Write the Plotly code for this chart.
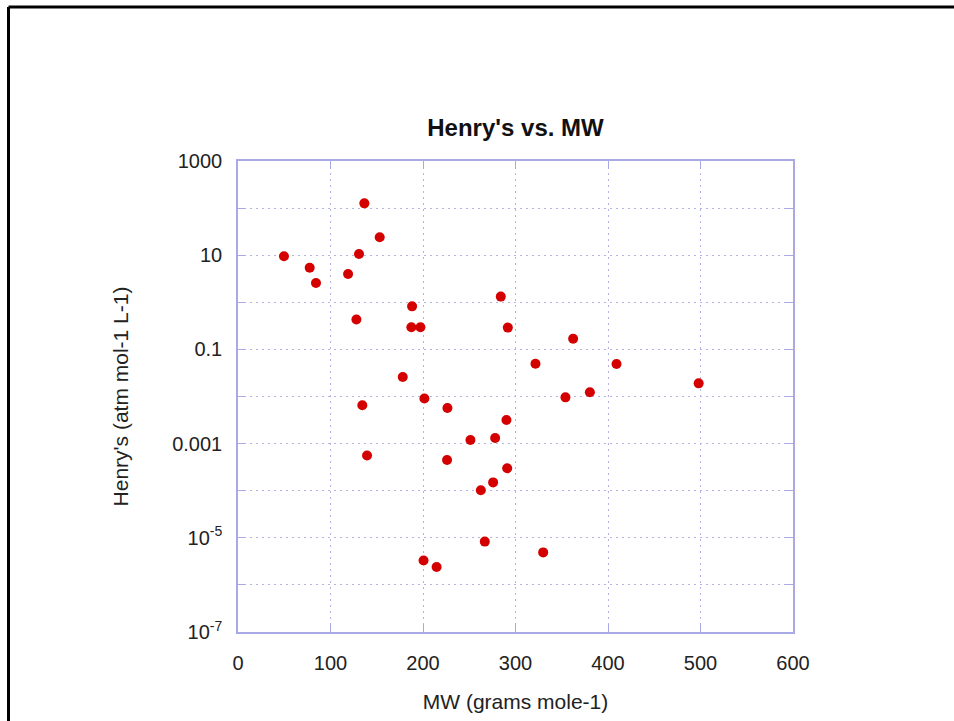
import plotly.graph_objects as go

# Molecular weight (g/mol) and Henry's law constant (atm mol-1 L-1)
mw = [49.7, 77.5, 84.3, 119, 130.8, 136.6, 153.2, 128, 188.2, 187.4,
      197.2, 178.1, 201.5, 134.4, 226.4, 139.5, 226, 200.6, 214.7, 284.1,
      291.7, 362.3, 321.6, 409.2, 498, 354, 380.4, 290.2, 251.3, 278,
      291, 275.8, 262.5, 266.8, 329.9]
henry = [9.5, 5.4, 2.57, 4.0, 10.6, 126, 24, 0.43, 0.82, 0.295,
         0.295, 0.026, 0.0091, 0.0065, 0.0057, 5.6e-4, 4.5e-4, 3.3e-6, 2.4e-6, 1.32,
         0.29, 0.169, 0.0497, 0.049, 0.019, 0.0096, 0.0123, 0.00317, 0.00119, 0.00131,
         2.99e-4, 1.5e-4, 1.02e-4, 8.3e-6, 4.9e-6]

y_tickvals = [1e-7, 1e-5, 1e-3, 1e-1, 10, 1000]
y_ticktext = ["10<sup>-7</sup>", "10<sup>-5</sup>", "0.001", "0.1", "10", "1000"]
y_minorvals = [1e-6, 1e-4, 1e-2, 1, 100]
x_tickvals = [0, 100, 200, 300, 400, 500, 600]

FONT = "Liberation Sans, Arial, Helvetica, sans-serif"
AXIS_COLOR = "#a9a9e6"
GRID_COLOR = "#b4b4e4"
GRID_DASH = "2px,4px"

fig = go.Figure(
    go.Scatter(
        x=mw, y=henry, mode="markers",
        marker=dict(color="#d40000", size=10, line=dict(width=0)),
        hoverinfo="x+y",
    )
)

W, H = 954, 721
L, R, T, B = 238, 161, 161, 89
pw, ph = W - L - R, H - T - B

# slide frame along the top and left edges
frame_x = (8.5 - L) / pw
frame_y = 1 + (T - 7) / ph
fig.add_shape(type="line", xref="paper", yref="paper",
              x0=frame_x, y0=frame_y, x1=1 + R / pw + 0.01, y1=frame_y,
              line=dict(color="black", width=3))
fig.add_shape(type="line", xref="paper", yref="paper",
              x0=frame_x, y0=frame_y, x1=frame_x, y1=-B / ph - 0.01,
              line=dict(color="black", width=3))

fig.update_layout(
    width=W, height=H,
    margin=dict(l=L, r=R, t=T, b=B, autoexpand=False),
    paper_bgcolor="white", plot_bgcolor="white",
    showlegend=False,
    font=dict(family=FONT, size=20, color="#222222"),
    title=dict(
        text="<b>Henry's vs. MW</b>",
        x=(L + pw / 2) / W, xanchor="center",
        y=1 - 128 / H, yanchor="middle",
        font=dict(family=FONT, size=24, color="#111111"),
    ),
    xaxis=dict(
        range=[0, 600], tickmode="array", tickvals=x_tickvals,
        showline=True, linecolor=AXIS_COLOR, linewidth=1.5, mirror="ticks",
        ticks="inside", ticklen=8, tickcolor=AXIS_COLOR,
        showgrid=True, gridcolor=GRID_COLOR, griddash=GRID_DASH, gridwidth=1,
        zeroline=False, ticklabelstandoff=12,
        title=dict(text="MW (grams mole-1)", standoff=22,
                   font=dict(family=FONT, size=21, color="#222222")),
        tickfont=dict(family=FONT, size=20, color="#222222"),
    ),
    yaxis=dict(
        type="log", range=[-7, 3], tickmode="array",
        tickvals=y_tickvals, ticktext=y_ticktext,
        showline=True, linecolor=AXIS_COLOR, linewidth=1.5, mirror="ticks",
        ticks="inside", ticklen=8, tickcolor=AXIS_COLOR,
        showgrid=True, gridcolor=GRID_COLOR, griddash=GRID_DASH, gridwidth=1,
        minor=dict(tickmode="array", tickvals=y_minorvals, ticks="inside",
                   ticklen=8, tickcolor=AXIS_COLOR, showgrid=True,
                   gridcolor=GRID_COLOR, griddash=GRID_DASH, gridwidth=1),
        zeroline=False, ticklabelstandoff=10,
        title=dict(text="Henry's (atm mol-1 L-1)", standoff=38,
                   font=dict(family=FONT, size=21, color="#222222")),
        tickfont=dict(family=FONT, size=20, color="#222222"),
    ),
)

fig.write_html("out.html")
